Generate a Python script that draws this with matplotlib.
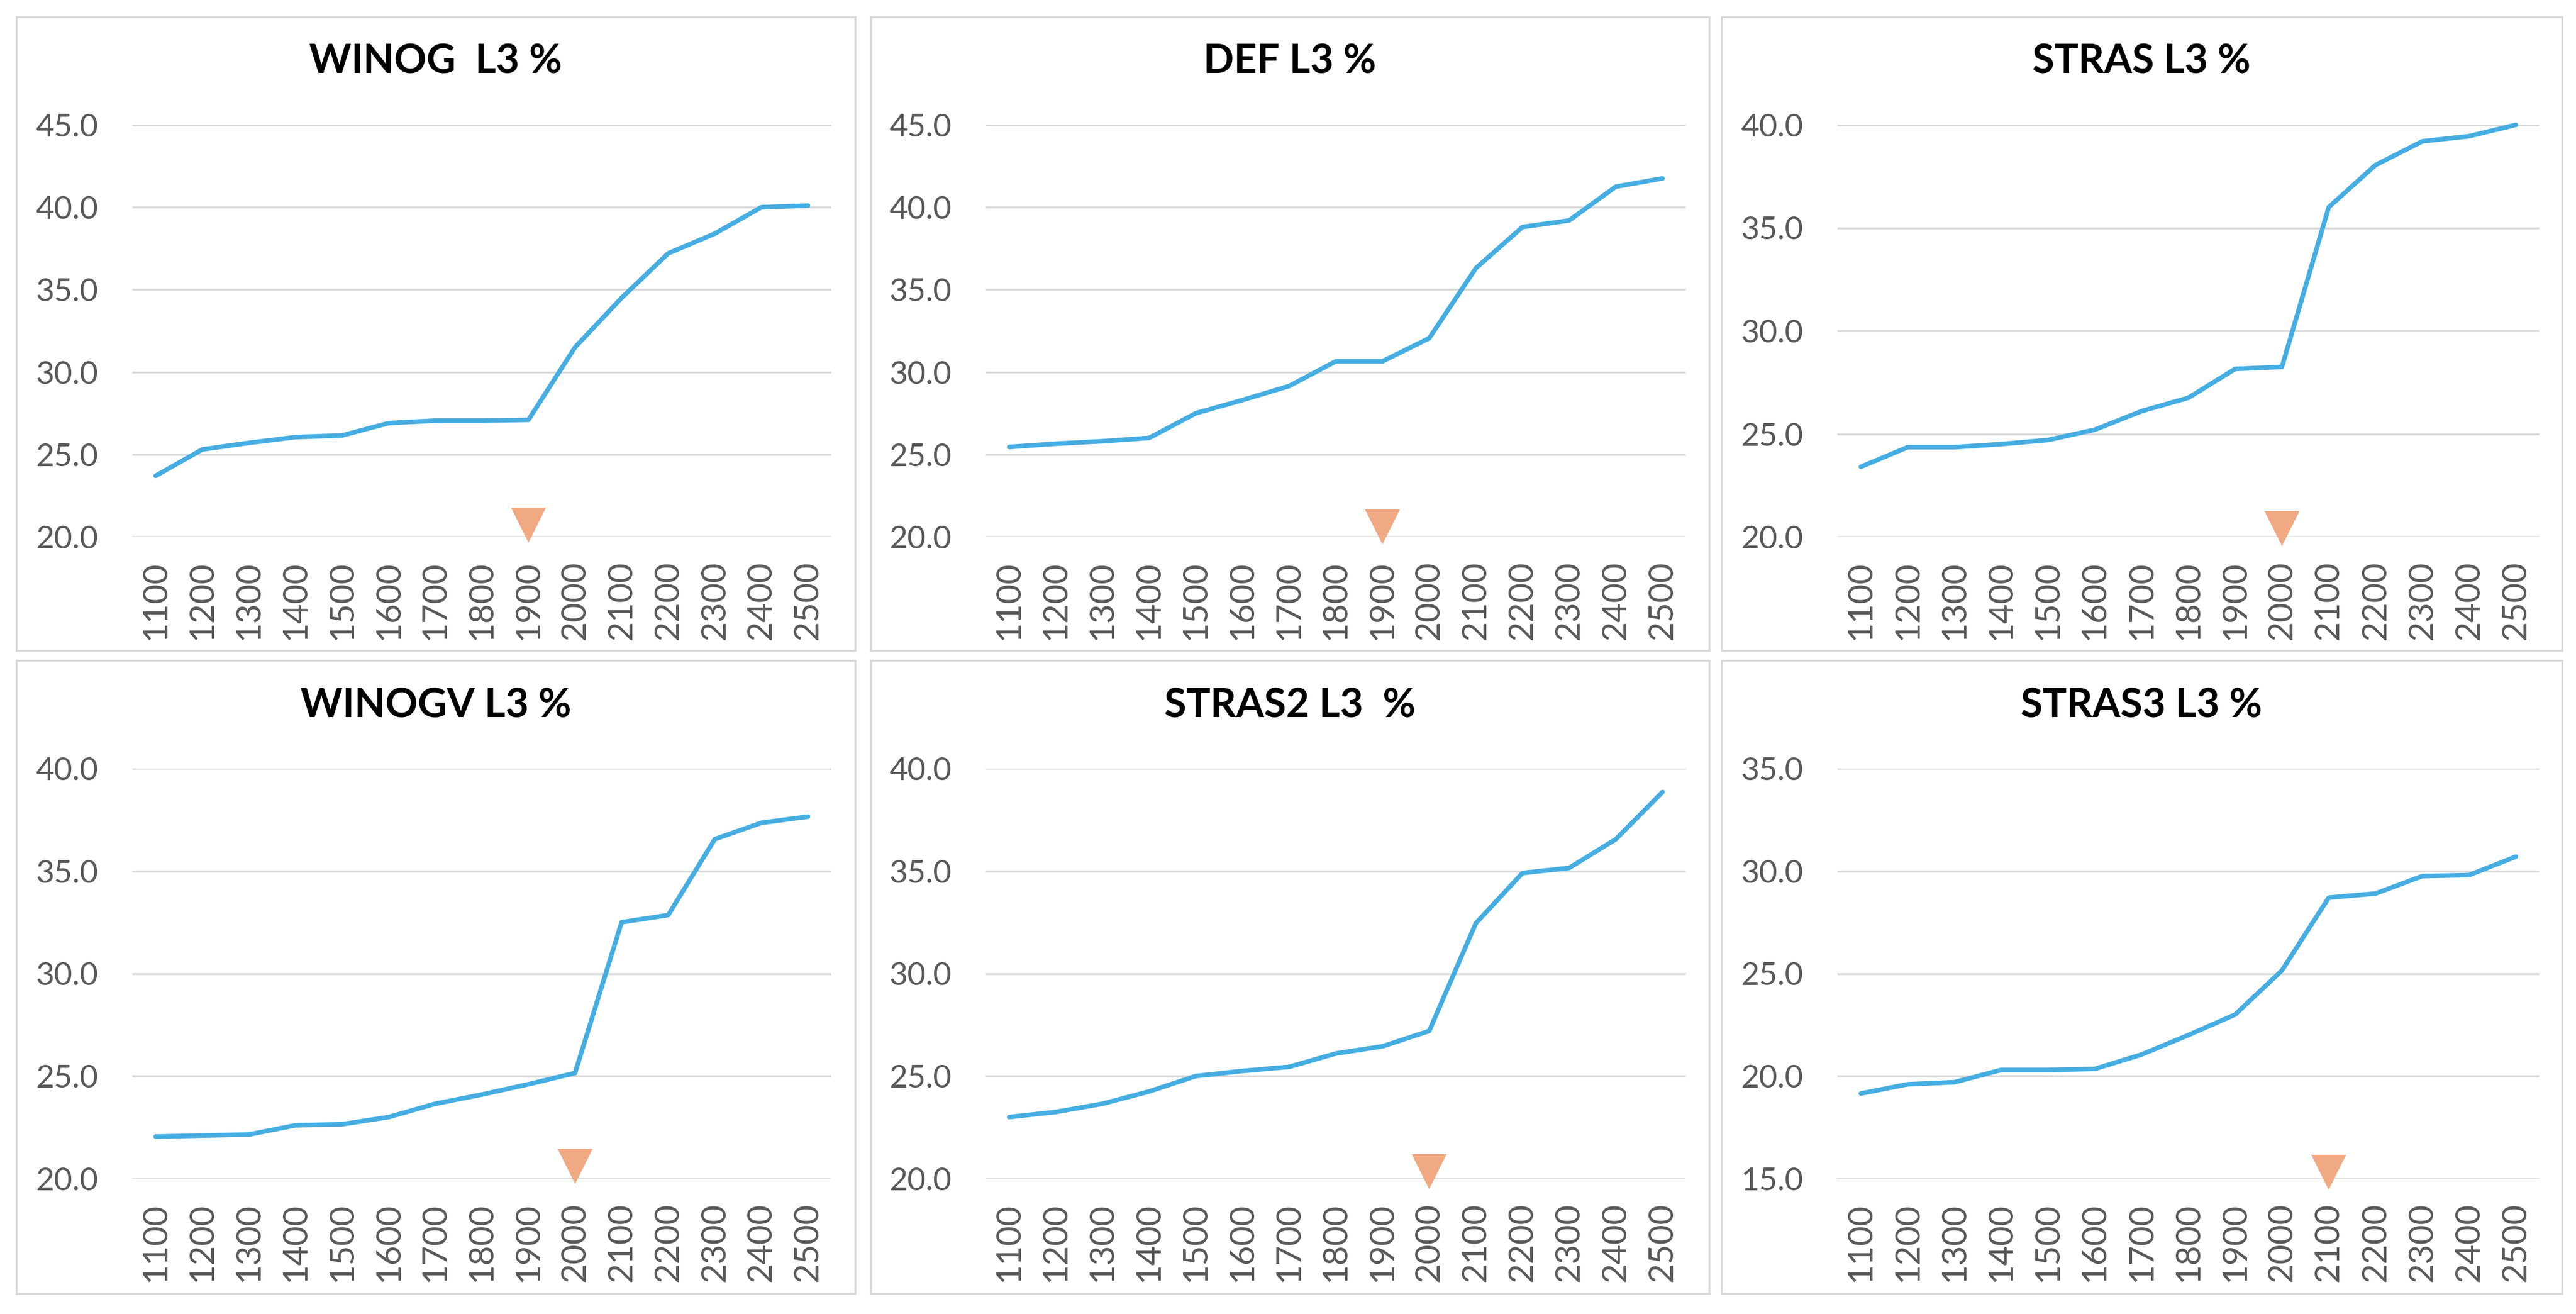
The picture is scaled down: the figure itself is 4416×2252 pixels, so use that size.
import matplotlib
matplotlib.use("Agg")
import matplotlib.pyplot as plt
from matplotlib.patches import Rectangle
from matplotlib.ticker import FormatStrFormatter, MultipleLocator

plt.rcParams["font.family"] = ["Lato", "DejaVu Sans"]

# categories (x axis)
steps = ["1100", "1200", "1300", "1400", "1500", "1600", "1700", "1800",
         "1900", "2000", "2100", "2200", "2300", "2400", "2500"]

# series values
winog = [23.7, 25.3, 25.7, 26.05, 26.15, 26.9, 27.05, 27.05, 27.1,
         31.5, 34.5, 37.2, 38.4, 40.0, 40.1]
deff = [25.45, 25.65, 25.8, 26.0, 27.5, 28.3, 29.15, 30.65, 30.65,
        32.05, 36.3, 38.8, 39.2, 41.25, 41.75]
stras = [23.4, 24.35, 24.35, 24.5, 24.7, 25.2, 26.1, 26.75, 28.15,
         28.25, 36.0, 38.05, 39.2, 39.45, 40.0]
winogv = [22.05, 22.1, 22.15, 22.6, 22.65, 23.0, 23.65, 24.1, 24.6,
          25.15, 32.5, 32.85, 36.55, 37.35, 37.65]
stras2 = [23.0, 23.25, 23.65, 24.25, 25.0, 25.25, 25.45, 26.1, 26.45,
          27.2, 32.45, 34.9, 35.15, 36.55, 38.85]
stras3 = [19.15, 19.6, 19.7, 20.3, 20.3, 20.35, 21.05, 22.0, 23.0,
          25.15, 28.7, 28.9, 29.75, 29.8, 30.7]

titles = ["WINOG  L3 %", "DEF L3 %", "STRAS L3 %",
          "WINOGV L3 %", "STRAS2 L3  %", "STRAS3 L3 %"]
series = [winog, deff, stras, winogv, stras2, stras3]

# orange marker: category and value per panel
mark_step = ["1900", "1900", "2000", "2000", "2000", "2100"]
mark_val = [20.7, 20.6, 20.4, 20.6, 20.35, 15.3]

# y ranges per panel
y_min = [20, 20, 20, 20, 20, 15]
y_max = [45, 45, 40, 40, 40, 35]

W, H = 4416, 2252
DPI = 300

LINE_BLUE = "#45ADE1"
ORANGE = "#F1A983"
GRID = "#D9D9D9"
TICK_GREY = "#595959"

# layout in pixels
col_plot = [(227, 1425), (1690, 2890), (3150, 4353)]
row_plot = [(214, 920), (1317, 2020)]
col_box = [(28, 1466), (1493, 2930), (2951, 4392)]
row_box = [(29, 1115), (1132, 2217)]
title_y = [106, 1210]


def main():
    fig = plt.figure(figsize=(W / DPI, H / DPI), dpi=DPI)
    fig.patch.set_facecolor("white")

    for i, vals in enumerate(series):
        r, c = divmod(i, 3)
        x0, x1 = col_plot[c]
        y0, y1 = row_plot[r]
        ax = fig.add_axes([x0 / W, 1 - y1 / H, (x1 - x0) / W, (y1 - y0) / H])

        # panel frame
        bx0, bx1 = col_box[c]
        by0, by1 = row_box[r]
        fig.patches.append(Rectangle((bx0 / W, 1 - by1 / H), (bx1 - bx0) / W,
                                     (by1 - by0) / H, transform=fig.transFigure,
                                     fill=False, edgecolor=GRID, linewidth=0.8))
        fig.text((bx0 + bx1) / 2 / W, 1 - title_y[r] / H, titles[i],
                 ha="center", va="center", fontsize=16.5, fontweight="bold",
                 color="black")

        xs = list(range(len(steps)))
        ax.plot(xs, vals, color=LINE_BLUE, linewidth=1.9, clip_on=False,
                solid_joinstyle="round", solid_capstyle="round", zorder=3)
        mx = steps.index(mark_step[i])
        ax.plot([mx], [mark_val[i]], linestyle="none", marker="v",
                markersize=14.5, color=ORANGE, markeredgewidth=0, zorder=4,
                clip_on=False)

        ax.set_xlim(-0.5, len(steps) - 0.5)
        ax.set_ylim(y_min[i], y_max[i])
        ax.yaxis.set_major_locator(MultipleLocator(5))
        ax.yaxis.set_major_formatter(FormatStrFormatter("%.1f"))
        ax.set_xticks(xs)
        ax.set_xticklabels(steps, rotation=90)

        ax.grid(axis="y", color=GRID, linewidth=0.8)
        ax.set_axisbelow(True)
        for s in ax.spines.values():
            s.set_visible(False)
        ax.tick_params(axis="both", length=0, colors=TICK_GREY)
        ax.tick_params(axis="y", labelsize=13, pad=14)
        ax.tick_params(axis="x", labelsize=14, pad=10)

    fig.savefig("out.png", dpi=DPI)
    plt.close(fig)


if __name__ == "__main__":
    main()
